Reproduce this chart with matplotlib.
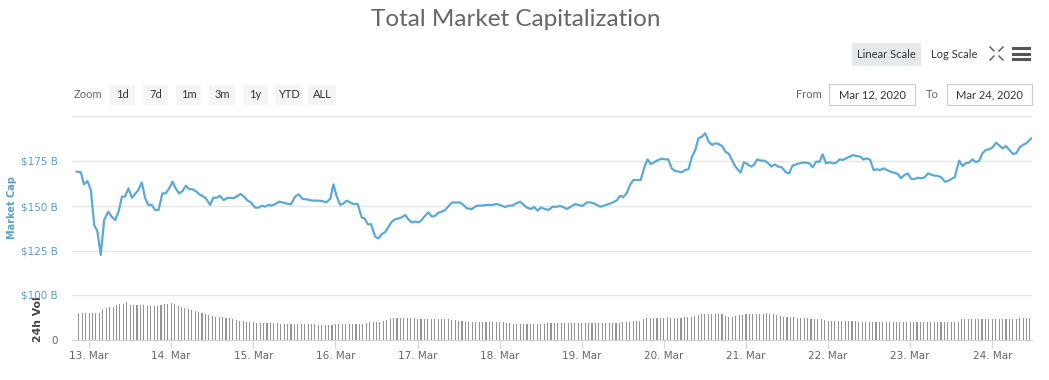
import matplotlib
matplotlib.use('Agg')
import matplotlib.pyplot as plt
import matplotlib.dates as mdates
import numpy as np
import pandas as pd
from matplotlib.patches import Rectangle
from matplotlib.lines import Line2D

# ---------------- data ----------------
title = 'Total Market Capitalization'
start = pd.Timestamp('2020-03-13 00:00')

cap_hours = [
    -3.6, -2.4, -1.5, -0.5, 0.5, 1.5, 2.4, 3.4, 4.4, 5.6, 6.6, 7.6, 8.6, 9.6, 10.5, 11.5,
    12.5, 13.6, 14.4, 15.4, 16.4, 17.3, 18.3, 19.3, 20.3, 21.4, 22.4, 23.4, 24.4, 25.3,
    26.3, 27.3, 28.3, 29.2, 30.2, 31.2, 32.2, 33.1, 34.1, 35.4, 36.3, 37.3, 38.3, 39.3,
    40.2, 41.2, 42.2, 43.2, 44.3, 45.3, 46.3, 47.3, 48.5, 49.5, 50.5, 51.4,
    52.4, 53.4, 54.4, 55.5, 56.8, 57.8, 59.0, 60.2, 61.2, 62.4, 63.6, 65.1, 66.6, 68.0,
    69.3, 70.5, 71.4, 72.4, 73.4, 74.3, 75.3, 76.3, 77.3, 78.5, 79.7, 80.5, 81.5, 82.4,
    83.6, 84.6, 85.5, 86.5, 87.5, 88.5, 89.4, 90.4, 91.4, 92.4, 93.3, 94.3, 95.3, 96.3,
    97.2, 98.2, 99.2, 100.2, 101.2, 102.1, 103.1, 104.1, 105.1, 106.1, 107.0,
    108.4, 109.4, 110.4, 111.9, 113.3, 114.8, 116.2, 117.7, 119.2, 120.6, 121.6, 122.6,
    123.6, 124.9, 126.0, 127.0, 128.0, 129.1, 130.1, 131.1, 132.0, 133.3, 134.3, 135.5,
    136.7, 137.7, 138.6, 139.6, 140.8, 142.1, 143.0, 144.2, 145.5, 146.5, 147.4, 148.4,
    149.4, 150.5, 151.8, 153.0, 154.2, 155.2, 156.1, 157.1, 158.1, 159.1, 160.1, 161.2,
    162.2, 163.2, 164.2,
    165.4, 166.4, 167.4, 168.4, 169.3, 170.3, 171.3, 172.3, 173.2, 174.2, 175.2, 176.2,
    177.2, 178.1, 179.1, 180.1, 181.1, 182.1, 183.0, 184.0, 185.0, 186.0, 187.0, 187.9,
    188.9, 190.4, 191.4, 192.4, 193.4, 194.3, 195.3, 196.3, 197.3, 198.3, 199.4, 200.4,
    201.4, 202.4, 203.7, 204.6, 205.6, 206.6, 207.6, 208.6, 209.5, 210.5, 211.5, 212.5,
    213.5, 214.4, 215.4, 216.4, 217.4, 218.4, 219.4, 220.3, 221.3, 222.3, 223.3, 224.3,
    225.4, 226.3, 227.3, 228.3, 229.3, 230.3, 231.2, 232.2, 233.2, 234.2, 235.2, 236.4,
    237.3, 238.3, 239.3, 240.3, 241.2, 242.2, 243.2, 244.2, 245.2, 246.2, 247.1, 248.1,
    249.1, 250.1, 251.1, 252.0, 253.0, 254.3, 255.3, 256.2, 257.2, 258.2, 259.2, 260.2,
    261.1, 262.1, 263.1, 264.1, 265.1, 266.1, 267.0, 268.0, 269.0, 270.0, 271.0, 272.0,
    272.9, 273.9, 275.4,
]
cap_values = [
    169.1, 168.7, 162.0, 163.9, 158.9, 139.4, 136.1, 122.8, 142.2, 146.8, 144.1, 142.2,
    146.8, 155.2, 155.2, 159.8, 154.6, 157.0, 158.9, 163.1, 154.3, 150.6, 150.6, 147.8,
    147.8, 157.0, 157.0, 159.8, 163.5, 159.8, 157.0, 158.3, 161.3, 159.4, 159.3, 158.3,
    156.5, 155.6, 154.3, 150.6, 154.6, 154.6, 155.6, 153.3, 154.3, 154.6, 154.3, 155.4,
    156.7, 155.2, 153.0, 152.0, 149.1, 149.1, 150.2, 149.6,
    150.6, 150.2, 151.1, 152.4, 151.9, 151.3, 150.9, 155.2, 156.5, 153.9, 153.7, 153.0,
    153.0, 152.8, 152.0, 153.9, 162.0, 155.2, 150.6, 151.3, 153.0, 152.0, 151.1, 151.1,
    143.5, 143.1, 139.8, 139.9, 133.0, 132.0, 134.4, 135.4, 138.5, 141.3, 142.6, 143.1,
    143.7, 145.0, 142.6, 140.9, 141.3, 140.9, 142.2, 144.6, 146.5, 144.1, 144.6, 146.3,
    146.9, 147.8, 150.0, 152.0, 151.9,
    152.0, 150.6, 148.7, 148.3, 150.2, 150.2, 150.6, 150.6, 151.1, 150.2, 149.4, 150.2,
    150.2, 151.5, 152.4, 150.6, 149.1, 148.3, 149.4, 147.4, 149.1, 148.3, 147.8, 149.6,
    149.6, 150.0, 149.4, 148.3, 149.6, 151.1, 150.6, 150.0, 152.0, 152.0, 151.5, 150.6,
    149.6, 150.2, 151.1, 151.9, 153.1, 155.6, 155.0, 157.0, 161.7, 164.4, 164.4, 164.4,
    170.9, 175.9, 173.3,
    174.6, 175.6, 176.3, 175.9, 175.9, 170.9, 169.4, 169.1, 168.7, 170.0, 170.4, 177.4,
    181.1, 187.6, 188.5, 190.4, 185.7, 183.9, 184.8, 184.5, 183.3, 180.2, 178.9, 175.6,
    171.9, 168.5, 174.3, 173.3, 171.9, 172.8, 175.9, 175.2, 175.2, 174.1, 171.9, 173.1,
    171.9, 171.5, 168.7, 168.1, 172.4, 173.1, 173.7, 174.1, 174.1, 173.7, 171.5, 174.6,
    174.6, 178.7, 173.7, 174.3, 173.7, 174.1, 175.9, 175.6, 176.5, 177.4, 178.3, 177.8,
    177.4, 175.9, 176.5, 175.6, 170.0, 170.4, 170.0, 170.9, 170.0, 169.1, 168.5, 167.8,
    165.4, 167.2, 168.1, 165.0, 165.0, 165.7, 165.4, 165.9, 168.1, 167.4, 166.9, 166.7,
    165.9, 163.5, 163.9, 165.0, 165.9, 175.2, 172.2, 173.7, 174.1, 175.9, 174.3, 175.2,
    179.3, 181.1, 181.5, 182.6, 185.2, 183.5, 182.0, 183.3, 181.1, 178.9, 179.3, 182.6,
    183.9, 184.8, 187.6,
]

vol_hours = list(range(-3, 276))
vol_values = [
    59, 59, 60,
    61, 59, 60, 59, 68, 72, 73, 74, 77, 80,
    80, 84, 78, 77, 77, 77, 77, 76, 75, 75,
    76, 78, 81, 81, 83, 80, 76, 74, 72, 69,
    67, 65, 63, 61, 58, 56, 53, 52, 52, 51,
    50, 48, 46, 44, 43, 42, 41, 40, 39, 38.5,
    38.5, 38, 38, 37, 37, 37, 36.5, 36, 35.5, 35.5,
    35.5, 35, 35, 35, 35, 35, 34.5, 34, 34, 33,
    33, 34, 36, 36, 36, 36, 36, 36, 35.5, 35.5,
    36, 37, 39, 40, 41, 41, 42, 44, 47, 48,
    48, 48.5, 48.5, 48.5, 48, 48, 47.5, 47, 47, 47,
    47, 47, 47, 47, 47, 46, 45, 44, 43, 42,
    41, 40, 39.5, 39.5, 39.5, 39, 39, 39, 39, 39,
    39.5, 39, 38.5, 37, 36, 36, 36, 36, 36, 36,
    36, 36, 36, 36.5, 37, 37, 37, 37, 37, 37,
    37, 37.5, 37.5, 37.5, 38, 38.5, 38.5, 38.5, 38.5, 38.5,
    38.5, 38.5, 38.5, 38.5, 38.5, 38.5, 39, 39.5, 41, 42,
    42, 43, 46, 49, 50, 50, 50, 50, 50, 50.5,
    50, 50, 50, 50, 50.5, 51, 51, 53, 55, 58,
    58, 58, 58.5, 58, 58, 57, 54, 52, 52, 53,
    55, 56, 57, 57, 57, 57, 58, 58, 59, 58,
    57, 55, 53, 52, 52, 51, 51, 50, 50, 49,
    48, 47, 47, 46, 46, 44, 42, 42, 42, 42,
    42, 42, 42, 42, 41.5, 41, 41, 41, 40.5, 40,
    39.5, 39.5, 39.5, 39.5, 39.5, 39.5, 39.5, 39.5, 39.5, 39.5,
    39.5, 39.5, 40, 40, 40, 41, 41, 40.5, 40.5, 40.5,
    40.5, 40.5, 40.5, 40.5, 41, 46, 46, 46, 46, 46,
    46, 46, 46, 46, 46, 46, 46, 46, 46, 46,
    46.5, 47, 48, 49, 50, 50,
]

cap_ticks = [125, 150, 175, 200]
cap_tick_labels = ['$125 B', '$150 B', '$175 B', '']
vol_ticks = [0, 100]
vol_tick_labels = ['0', '$100 B']
zoom_buttons = ['1d', '7d', '1m', '3m', '1y', 'YTD', 'ALL']
date_from = 'Mar 12, 2020'
date_to = 'Mar 24, 2020'

# ---------------- figure ----------------
W, H = 1049, 380
fig = plt.figure(figsize=(W / 100, H / 100), dpi=100)
fig.patch.set_facecolor('white')

LINE = '#5aa9d6'
BLUE_TXT = '#5b9fcc'
GRID = '#e6e6e6'
AXIS = '#ccd6eb'
UIFONT = 'Lato'


def rect_px(x0, y0, x1, y1):
    return [x0 / W, 1 - y1 / H, (x1 - x0) / W, (y1 - y0) / H]


def fx(x):
    return x / W


def fy(y):
    return 1 - y / H


cap_times = start + pd.to_timedelta(cap_hours, unit='h')
vol_times = start + pd.to_timedelta(vol_hours, unit='h')
x_lo = start + pd.Timedelta(hours=-5.0)
x_hi = start + pd.Timedelta(hours=275.6)

# main pane
ax = fig.add_axes(rect_px(72, 116, 1032, 269))
ax.plot(cap_times, cap_values, color=LINE, lw=1.6, solid_joinstyle='round')
ax.set_ylim(115, 200)
ax.set_xlim(x_lo, x_hi)
ax.set_yticks(cap_ticks)
ax.set_yticklabels(cap_tick_labels, color=BLUE_TXT, fontsize=7.5)
ax.tick_params(axis='y', length=0, pad=10)
ax.tick_params(axis='x', length=0, labelbottom=False)
ax.grid(axis='y', color=GRID, lw=1)
ax.set_axisbelow(True)
for s in ax.spines.values():
    s.set_visible(False)

# volume pane
axv = fig.add_axes(rect_px(72, 295, 1032, 340))
axv.bar(vol_times, vol_values, width=1.1 / 82.1, color='#949494', lw=0)
axv.set_ylim(0, 100)
axv.set_xlim(x_lo, x_hi)
axv.set_yticks(vol_ticks)
axv.set_yticklabels(vol_tick_labels, fontsize=7.5)
for lbl, c in zip(axv.get_yticklabels(), ['#666666', BLUE_TXT]):
    lbl.set_color(c)
axv.tick_params(axis='y', length=0, pad=10)
axv.grid(axis='y', color=GRID, lw=1)
axv.set_axisbelow(True)
for k in ['top', 'right', 'left']:
    axv.spines[k].set_visible(False)
axv.spines['bottom'].set_color(AXIS)
axv.xaxis.set_major_locator(mdates.DayLocator())
axv.xaxis.set_major_formatter(mdates.DateFormatter('%d. %b'))
axv.tick_params(axis='x', length=6, color=AXIS, labelsize=7.5, labelcolor='#666666', pad=2)

# axis titles
fig.text(fx(12), fy(208), 'Market Cap', rotation=90, ha='center', va='center',
         color=BLUE_TXT, fontsize=7, fontweight='bold')
fig.text(fx(38), fy(319), '24h Vol', rotation=90, ha='center', va='center',
         color='#444444', fontsize=7.8, fontweight='bold')

# title
fig.text(fx(516), fy(20), title, ha='center', va='center', color='#666666',
         fontsize=17.5, family=UIFONT)

# scale buttons
fig.patches.append(Rectangle((fx(852), fy(66)), (921 - 852) / W, 23 / H,
                             transform=fig.transFigure, facecolor='#e6e9eb', edgecolor='none'))
fig.text(fx(886.5), fy(54), 'Linear Scale', ha='center', va='center', fontsize=8,
         color='#333333', family=UIFONT)
fig.text(fx(954), fy(54), 'Log Scale', ha='center', va='center', fontsize=8,
         color='#333333', family=UIFONT)
# fullscreen icon
for (x0, y0, dx, dy) in [(990, 47, 1, 1), (1003, 47, -1, 1), (990, 60, 1, -1), (1003, 60, -1, -1)]:
    fig.lines.append(Line2D([fx(x0), fx(x0 + dx * 4)], [fy(y0), fy(y0 + dy * 4)],
                            transform=fig.transFigure, color='#555555', lw=1))
# hamburger
for yy in [48, 53.5, 59]:
    fig.lines.append(Line2D([fx(1013), fx(1029)], [fy(yy), fy(yy)],
                            transform=fig.transFigure, color='#555555', lw=2.2))

# zoom row
fig.text(fx(74), fy(95), 'Zoom', ha='left', va='center', fontsize=8, color='#666666',
         family=UIFONT)
btn_x = [(110, 135), (143, 168), (176, 201), (209, 235), (243, 268), (275, 302), (308, 336)]
for (x0, x1), lab in zip(btn_x, zoom_buttons):
    fig.patches.append(Rectangle((fx(x0), fy(105)), (x1 - x0) / W, 20 / H,
                                 transform=fig.transFigure, facecolor='#f5f5f5',
                                 edgecolor='none'))
    fig.text(fx((x0 + x1) / 2), fy(95), lab, ha='center', va='center', fontsize=8,
             color='#333333', family=UIFONT)

fig.text(fx(822), fy(94), 'From', ha='right', va='center', fontsize=8, color='#666666',
         family=UIFONT)
fig.text(fx(939), fy(94), 'To', ha='right', va='center', fontsize=8, color='#666666',
         family=UIFONT)
for (x0, x1), lab in zip([(829, 915), (947, 1032)], [date_from, date_to]):
    fig.patches.append(Rectangle((fx(x0), fy(105)), (x1 - x0) / W, 21 / H,
                                 transform=fig.transFigure, facecolor='white',
                                 edgecolor='#cccccc', lw=0.8))
    fig.text(fx((x0 + x1) / 2), fy(94.5), lab, ha='center', va='center', fontsize=8,
             color='#333333', family=UIFONT)

fig.savefig('out.png', dpi=100, facecolor='white')
